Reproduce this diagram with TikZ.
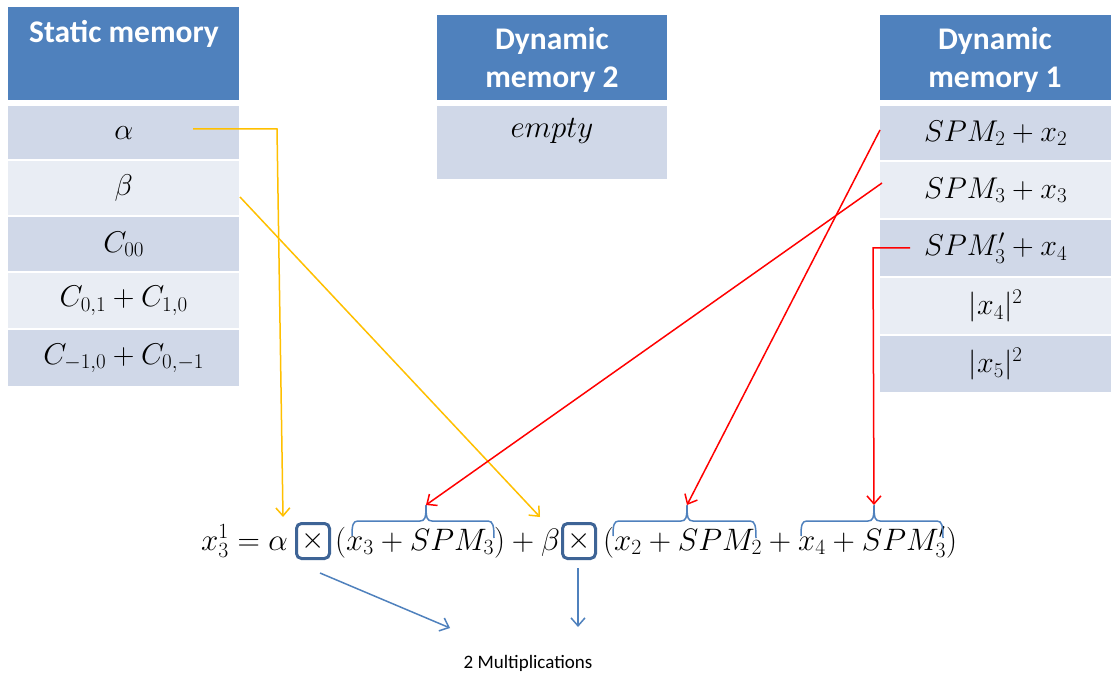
\RequirePackage{fix-cm}
\documentclass[tikz,border=0pt]{standalone}
\usepackage{fontspec}
\newfontfamily\calibri{Carlito}
\usetikzlibrary{arrows.meta}
\definecolor{hdrblue}{HTML}{4F81BD}
\definecolor{rowdark}{HTML}{D0D8E8}
\definecolor{rowlight}{HTML}{E9EDF4}
\definecolor{boxblue}{HTML}{3E6496}
\definecolor{arryellow}{HTML}{FFC000}
\definecolor{arrred}{HTML}{FF0000}
\definecolor{linkblue}{HTML}{4F81BD}
\tikzset{
  hdr/.style={fill=hdrblue, inner sep=0pt, anchor=north west},
  title/.style={font=\calibri\bfseries\fontsize{31.5}{38}\selectfont, text=white, align=center, anchor=base, inner sep=0pt},
  cell/.style={inner sep=0pt, anchor=north west, font=\fontsize{30}{36}\selectfont},
  dk/.style={cell, fill=rowdark},
  lt/.style={cell, fill=rowlight},
  eq/.style={inner sep=0pt, anchor=base west, font=\fontsize{31}{36}\selectfont},
  mulbox/.style={draw=boxblue, line width=3pt, rounded corners=5pt, minimum width=33pt, minimum height=35pt, inner sep=0pt, font=\fontsize{30}{36}\selectfont},
  ybarrow/.style={draw=arryellow, line width=1.5pt, -{Straight Barb[length=8pt,width=14pt,line width=1.5pt]}},
  redarrow/.style={draw=arrred, line width=1.5pt, -{Straight Barb[length=8pt,width=14pt,line width=1.5pt]}},
  bluearrow/.style={draw=linkblue, line width=1.5pt, -{Straight Barb[length=8pt,width=14pt,line width=1.5pt]}},
  brace/.style={draw=linkblue, line width=1.5pt},
  note/.style={font=\calibri\fontsize{19}{22}\selectfont, anchor=base, inner sep=0pt}
}
\begin{document}
\begin{tikzpicture}[x=1pt,y=-1pt]
\useasboundingbox[fill=white] (0,0) rectangle (1111,676);

% Static memory
\node[hdr, minimum width=231pt, minimum height=93pt] (sh) at (8,7) {};
\node[title] (st) at (124,43) {Static memory};
\node[dk, minimum width=231pt, minimum height=53pt] (s1) at (8,106) {$\alpha$};
\node[lt, minimum width=231pt, minimum height=54pt] (s2) at (8,161) {$\beta$};
\node[dk, minimum width=231pt, minimum height=54pt] (s3) at (8,217) {$C_{00}$};
\node[lt, minimum width=231pt, minimum height=55pt] (s4) at (8,273) {$C_{0,1}+C_{1,0}$};
\node[dk, minimum width=231pt, minimum height=56pt] (s5) at (8,330) {$C_{-1,0}+C_{0,-1}$};

% Dynamic memory 2
\node[hdr, minimum width=230pt, minimum height=85pt] (dh2) at (437,15) {};
\node[title] (dt2) at (552,88) {Dynamic\\memory 2};
\node[dk, minimum width=230pt, minimum height=73pt] (d2r) at (437,106) {};
\node[eq, anchor=base] (empty) at (552,138) {$empty$};

% Dynamic memory 1
\node[hdr, minimum width=231pt, minimum height=85pt] (dh1) at (880,15) {};
\node[title] (dt1) at (995,88) {Dynamic\\memory 1};
\node[dk, minimum width=231pt, minimum height=54pt] (d1) at (880,106) {$SPM_2+x_2$};
\node[lt, minimum width=231pt, minimum height=56pt] (d2) at (880,162) {$SPM_3+x_3$};
\node[dk, minimum width=231pt, minimum height=56pt] (d3) at (880,220) {$SPM'_3+x_4$};
\node[lt, minimum width=231pt, minimum height=56pt] (d4) at (880,278) {$|x_4|^2$};
\node[dk, minimum width=231pt, minimum height=56pt] (d5) at (880,336) {$|x_5|^2$};

% Equation
\node[eq] (e1) at (201,550) {$x_3^1=\alpha$};
\node[mulbox] (m1) at (313,541) {$\times$};
\node[eq] (e2) at (335,550) {$(x_3+SPM_3)+\beta$};
\node[mulbox] (m2) at (579,541) {$\times$};
\node[eq] (e3) at (603,550) {$(x_2+SPM_2+x_4+SPM'_3)$};

% Braces
\coordinate (t1) at (426,505);
\coordinate (t2) at (687,505);
\coordinate (t3) at (874,505);
\draw[brace] (352,536) .. controls (352,525) and (353,521) .. (358,521) -- (420,521) .. controls (425,521) and (426,518) .. (t1) .. controls (426,518) and (427,521) .. (432,521) -- (488,521) .. controls (493,521) and (494,526) .. (494,538);
\draw[brace] (613,536) .. controls (613,525) and (614,521) .. (619,521) -- (681,521) .. controls (686,521) and (687,518) .. (t2) .. controls (687,518) and (688,521) .. (693,521) -- (750,521) .. controls (755,521) and (756,526) .. (756,538);
\draw[brace] (801,536) .. controls (801,525) and (802,521) .. (807,521) -- (868,521) .. controls (873,521) and (874,518) .. (t3) .. controls (874,518) and (875,521) .. (880,521) -- (937,521) .. controls (942,521) and (943,526) .. (943,538);

% Yellow arrows
\coordinate (ya) at (193,129);
\coordinate (yb) at (240,197);
\coordinate (yaend) at (283,517);
\coordinate (ybend) at (540,517);
\draw[ybarrow] (ya) -- (277,129) -- (yaend);
\draw[ybarrow] (yb) -- (ybend);

% Red arrows
\coordinate (ra) at (880,130);
\coordinate (rb) at (882,183);
\coordinate (rc) at (910,248);
\draw[redarrow] (ra) -- (t2);
\draw[redarrow] (rb) -- (t1);
\draw[redarrow] (rc) -- (873,248) -- (t3);

% Blue arrows and note
\coordinate (ba) at (320,573);
\coordinate (baend) at (450,628);
\coordinate (bb) at (578,568);
\coordinate (bbend) at (578,627);
\draw[bluearrow] (ba) -- (baend);
\draw[bluearrow] (bb) -- (bbend);
\node[note] (mult) at (528,668) {2 Multiplications};
\end{tikzpicture}
\end{document}
